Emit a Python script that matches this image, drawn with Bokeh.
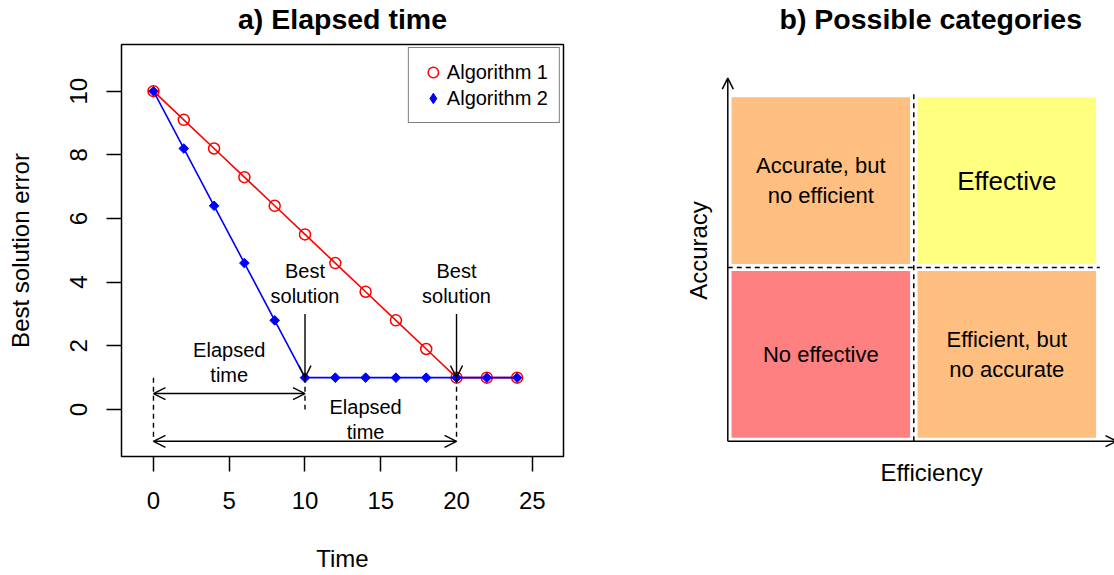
import math
from bokeh.plotting import figure
from bokeh.layouts import row
from bokeh.models import (Range1d, FixedTicker, Title, Legend, LegendItem,
                          Arrow, OpenHead, ColumnDataSource)
from bokeh.core.properties import value
from bokeh.embed import file_html
from bokeh.resources import INLINE

FONT = "Liberation Sans"

# ---------------- data ----------------
time = [0, 2, 4, 6, 8, 10, 12, 14, 16, 18, 20, 22, 24]
algorithm_1 = [10, 9.1, 8.2, 7.3, 6.4, 5.5, 4.6, 3.7, 2.8, 1.9, 1, 1, 1]
algorithm_2 = [10, 8.2, 6.4, 4.6, 2.8, 1, 1, 1, 1, 1, 1, 1, 1]
x_ticks = [0, 5, 10, 15, 20, 25]
y_ticks = [0, 2, 4, 6, 8, 10]
start_time = 0
best_time = [10, 20]      # time at which each algorithm reaches its best solution
best_error = [1, 1]

quadrant_labels = ["Accurate, but\nno efficient", "Effective",
                   "No effective", "Efficient, but\nno accurate"]
quadrant_efficiency = [0, 1, 0, 1]
quadrant_accuracy = [1, 1, 0, 0]


def spacer():
    return Title(text=" ", text_font=FONT, text_font_size="5px", standoff=0)


# ---------------- panel a ----------------
p1 = figure(width=565, height=575, title=None,
            x_range=Range1d(-2.11, 27.06), y_range=Range1d(-1.477, 11.467),
            output_backend="svg", toolbar_location=None,
            min_border_left=121, min_border_right=2,
            min_border_top=44, min_border_bottom=119)
p1.add_layout(spacer(), "above")
p1.add_layout(Title(text="a) Elapsed time", align="center", text_font=FONT,
                    text_font_size="28.5px", text_font_style="bold",
                    vertical_align="top", standoff=0, text_color="black"), "above")
p1.grid.visible = False
p1.outline_line_color = "black"
p1.outline_line_width = 1.5
p1.background_fill_color = "white"
p1.border_fill_color = "white"

for ax in (p1.xaxis[0], p1.yaxis[0]):
    ax.axis_line_color = None
    ax.major_tick_in = 0
    ax.major_tick_out = 15
    ax.major_tick_line_width = 1.5
    ax.major_tick_line_color = "black"
    ax.minor_tick_line_color = None
    ax.major_label_text_font = FONT
    ax.major_label_text_font_size = "24px"
    ax.major_label_text_color = "black"
    ax.axis_label_text_font = FONT
    ax.axis_label_text_font_size = "24px"
    ax.axis_label_text_font_style = "normal"
    ax.axis_label_text_color = "black"
p1.xaxis.ticker = FixedTicker(ticks=x_ticks)
p1.yaxis.ticker = FixedTicker(ticks=y_ticks)
p1.xaxis.axis_label = "Time"
p1.yaxis.axis_label = "Best solution error"
p1.xaxis.major_label_standoff = 20
p1.xaxis.axis_label_standoff = 33
p1.yaxis.major_label_standoff = 19
p1.yaxis.major_label_orientation = "vertical"
p1.yaxis.axis_label_standoff = 34

# series
p1.line(time, algorithm_1, line_color="#FF0000", line_width=1.6)
r1 = p1.scatter(time, algorithm_1, marker="circle", size=11, fill_color=None,
                line_color="#FF0000", line_width=1.5)
p1.line(time, algorithm_2, line_color="#0000FF", line_width=1.6)
p1.scatter(time, algorithm_2, marker="square", angle=math.pi / 4, size=6.8,
           fill_color="#0000FF", line_color="#0000FF", line_width=1)
# legend key for algorithm 2: an upright diamond (legends do not rotate markers),
# drawn small on top of the first point so that it stays hidden in the plot
r2_key = p1.scatter(x=time[:1], y=algorithm_2[:1], marker="diamond", size=5,
                    fill_color="#0000FF", line_color="#0000FF", line_width=1)

# dashed guides
p1.segment(x0=[start_time] + best_time, y0=[best_error[0]] + best_error,
           x1=[start_time] + best_time, y1=[-1, 0, -1],
           line_color="black", line_width=1.4, line_dash="5 4")

# "Best solution" arrows
for bt, be in zip(best_time, best_error):
    p1.add_layout(Arrow(x_start=bt, y_start=be + 2, x_end=bt, y_end=be,
                        line_width=1.4, line_color="black",
                        end=OpenHead(size=12, line_width=1.4, line_color="black")))
# elapsed time double arrows
for bt, yy in zip(best_time, [0.5, -1]):
    p1.add_layout(Arrow(x_start=start_time, y_start=yy, x_end=bt, y_end=yy,
                        line_width=1.4, line_color="black",
                        start=OpenHead(size=12, line_width=1.4, line_color="black"),
                        end=OpenHead(size=12, line_width=1.4, line_color="black")))

p1.text(x=best_time, y=[3.95, 3.95], text=["Best\nsolution", "Best\nsolution"],
        text_align="center", text_baseline="middle", text_font=value(FONT),
        text_font_size="20px", text_color="black", text_line_height=1.15)
p1.text(x=[5, 14], y=[1.48, -0.31], text=["Elapsed\ntime", "Elapsed\ntime"],
        text_align="center", text_baseline="middle", text_font=value(FONT),
        text_font_size="20px", text_color="black", text_line_height=1.15)

legend = Legend(items=[LegendItem(label="Algorithm 1", renderers=[r1]),
                       LegendItem(label="Algorithm 2", renderers=[r2_key])],
                location="top_right", margin=3, padding=11, spacing=0,
                glyph_width=26, glyph_height=26, label_height=26,
                label_standoff=1, label_text_font=FONT,
                label_text_font_size="20px", label_text_color="black",
                border_line_color="black", border_line_width=1.5,
                background_fill_color="white", background_fill_alpha=1.0)
p1.add_layout(legend)

# ---------------- panel b ----------------
p2 = figure(width=549, height=575, title=None,
            x_range=Range1d(-0.0661, 2.079), y_range=Range1d(-0.0881, 2.2838),
            x_axis_location=None, y_axis_location=None,
            output_backend="svg", toolbar_location=None,
            min_border_left=150, min_border_right=0,
            min_border_top=44, min_border_bottom=119)
p2.add_layout(spacer(), "above")
p2.add_layout(Title(text="b) Possible categories", align="left", offset=64,
                    text_font=FONT, text_font_size="28.5px", text_font_style="bold",
                    vertical_align="top", standoff=0, text_color="black"), "above")
p2.add_layout(Title(text="Efficiency", align="left", offset=165,
                    text_font=FONT, text_font_size="24px", text_font_style="normal",
                    vertical_align="top", standoff=4, text_color="black"), "below")
p2.add_layout(Title(text="Accuracy", align="center",
                    text_font=FONT, text_font_size="24px", text_font_style="normal",
                    vertical_align="bottom", standoff=8, text_color="black"), "left")
p2.grid.visible = False
p2.outline_line_color = None
p2.background_fill_color = "white"
p2.border_fill_color = "white"

quad_colors = ["#FFBF80", "#FFFF80", "#FF8080", "#FFBF80"]
quad_sizes = ["22px", "26px", "22px", "22px"]
src = ColumnDataSource(dict(
    left=[e + 0.02 for e in quadrant_efficiency],
    right=[e + 0.98 for e in quadrant_efficiency],
    bottom=[a + 0.02 for a in quadrant_accuracy],
    top=[a + 0.98 for a in quadrant_accuracy],
    cx=[e + 0.5 for e in quadrant_efficiency],
    cy=[a + 0.5 for a in quadrant_accuracy],
    label=quadrant_labels, color=quad_colors, size=quad_sizes))
p2.quad(left="left", right="right", bottom="bottom", top="top",
        fill_color="color", line_color=None, source=src)
p2.text(x="cx", y="cy", text="label", text_font_size="size", source=src,
        text_align="center", text_baseline="middle", text_font=value(FONT),
        text_color="black", text_line_height=1.2)

p2.segment(x0=[1, 0], y0=[0, 1], x1=[1, 2], y1=[2, 1],
           line_color="black", line_width=1.5, line_dash="5 4")

for xe, ye in [(0, 2.09), (2.09, 0)]:
    p2.add_layout(Arrow(x_start=0, y_start=0, x_end=xe, y_end=ye,
                        line_width=1.5, line_color="black",
                        end=OpenHead(size=11, line_width=1.5, line_color="black")))

layout = row(p1, p2)
open("out.html", "w").write(file_html(layout, INLINE))
